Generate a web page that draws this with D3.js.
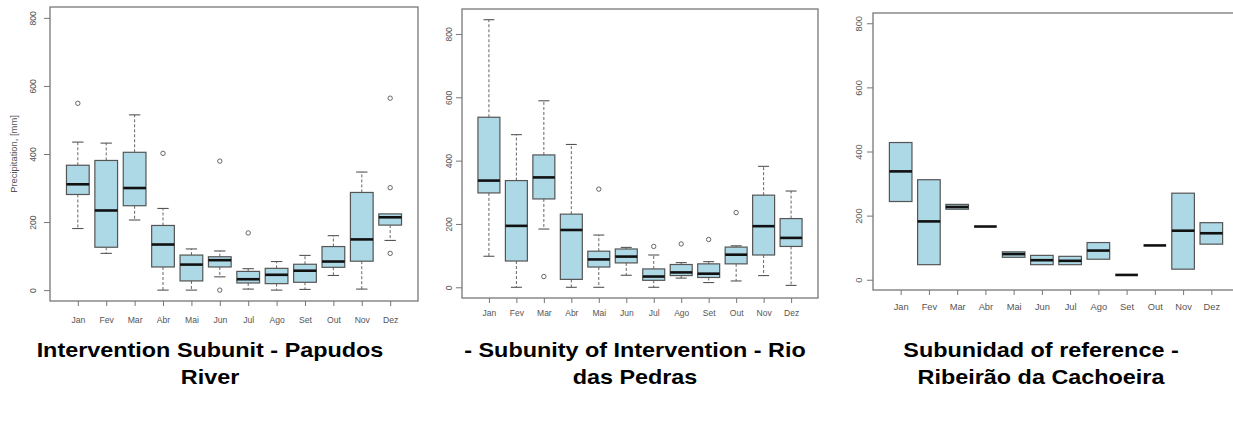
<!DOCTYPE html>
<html>
<head>
<meta charset="utf-8">
<script src="https://cdn.jsdelivr.net/npm/d3@7"></script>
<style>
  body { margin: 0; background: #fff; }
  svg { display: block; font-family: "Liberation Sans", Arial, sans-serif; }
</style>
</head>
<body>
<svg id="chart" width="1233" height="427"></svg>
<script>
// Month labels and y-axis ticks shared by the three boxplots
const months = ["Jan", "Fev", "Mar", "Abr", "Mai", "Jun", "Jul", "Ago", "Set", "Out", "Nov", "Dez"];
const yTicks = [0, 200, 400, 600, 800];

// Papudos River – monthly precipitation statistics (mm)
const papudosLow  = [181, 108, 206,   0,   0,  39,   3,   0,   2,  43,   3, 146];
const papudosQ1   = [281, 126, 248,  68,  27,  68,  21,  19,  23,  67,  85, 191];
const papudosMed  = [311, 234, 300, 134,  75,  88,  32,  45,  57,  84, 149, 214];
const papudosQ3   = [367, 381, 405, 190, 103,  98,  55,  64,  76, 128, 287, 224];
const papudosHigh = [435, 432, 515, 240, 121, 115,  63,  84, 102, 160, 347, 224];
const papudosOut  = [[549], [], [], [402], [], [379, 0], [168], [], [], [], [], [564, 301, 108]];

// Rio das Pedras
const pedrasLow  = [ 98,   0, 184,   0,   0,  38,   0,  29,  15,  20,  37,   6];
const pedrasQ1   = [298,  83, 279,  25,  64,  77,  22,  37,  31,  74, 102, 129];
const pedrasMed  = [337, 194, 347, 181,  88,  97,  34,  47,  43, 103, 193, 156];
const pedrasQ3   = [537, 337, 418, 231, 114, 121,  58,  72,  74, 127, 291, 217];
const pedrasHigh = [845, 482, 589, 451, 165, 126, 102,  78,  81, 131, 382, 304];
const pedrasOut  = [[], [], [34], [], [310], [], [129], [137], [151], [236], [], []];

// Ribeirão da Cachoeira (short record: no whiskers beyond the box)
const cachoeiraLow  = [244,  47, 220, 166,  70,  47,  47,  64,  15, 107,  33, 111];
const cachoeiraQ1   = [244,  47, 220, 166,  70,  47,  47,  64,  15, 107,  33, 111];
const cachoeiraMed  = [338, 182, 227, 166,  80,  61,  59,  91,  15, 107, 153, 145];
const cachoeiraQ3   = [428, 312, 235, 166,  87,  76,  73, 116,  15, 107, 270, 178];
const cachoeiraHigh = [428, 312, 235, 166,  87,  76,  73, 116,  15, 107, 270, 178];
const cachoeiraOut  = [[], [], [], [], [], [], [], [], [], [], [], []];

const titlePapudos   = ["Intervention Subunit - Papudos", "River"];
const titlePedras    = ["- Subunity of Intervention - Rio", "das Pedras"];
const titleCachoeira = ["Subunidad of reference -", "Ribeirão da Cachoeira"];

function build(low, q1, med, q3, high, out) {
  return months.map((m, i) => ({ i: i + 1, m, low: low[i], q1: q1[i], med: med[i], q3: q3[i], high: high[i], out: out[i] }));
}

// Panel layout (frame in pixels, label placement, font sizes)
const panels = [
  { data: build(papudosLow, papudosQ1, papudosMed, papudosQ3, papudosHigh, papudosOut),
    title: titlePapudos, titleX: 210,
    frame: { x0: 50, x1: 418, y0: 7, y1: 301 }, ylim: [0, 800],
    tickFont: 8.6, yLabOff: 17, xLabY: 320, yTitle: "Precipitation, [mm]" },
  { data: build(pedrasLow, pedrasQ1, pedrasMed, pedrasQ3, pedrasHigh, pedrasOut),
    title: titlePedras, titleX: 635,
    frame: { x0: 462, x1: 818, y0: 9, y1: 298 }, ylim: null,
    tickFont: 8.5, yLabOff: 13.5, xLabY: 313 },
  { data: build(cachoeiraLow, cachoeiraQ1, cachoeiraMed, cachoeiraQ3, cachoeiraHigh, cachoeiraOut),
    title: titleCachoeira, titleX: 1041,
    frame: { x0: 873, x1: 1239, y0: 13, y1: 290 }, ylim: [0, 800],
    tickFont: 9.3, yLabOff: 14.5, xLabY: 306.5 }
];

const svg = d3.select("#chart");

panels.forEach(p => {
  const f = p.frame;
  const n = months.length;
  // x: boxes at 1..n, limits 0.5..n+0.5 padded by 4%
  const xr = [0.5 - 0.04 * n, n + 0.5 + 0.04 * n];
  const x = d3.scaleLinear().domain(xr).range([f.x0, f.x1]);

  let lim = p.ylim;
  if (!lim) {
    const all = p.data.flatMap(d => [d.low, d.high, ...d.out]);
    lim = d3.extent(all);
  }
  const pad = 0.04 * (lim[1] - lim[0]);
  const y = d3.scaleLinear().domain([lim[0] - pad, lim[1] + pad]).range([f.y1, f.y0]);

  const g = svg.append("g");
  const step = x(2) - x(1);
  const bw = 0.8 * step;

  // whiskers
  const wk = g.append("g").attr("stroke", "#666").attr("stroke-width", 1).attr("stroke-dasharray", "3,2");
  p.data.forEach(d => {
    if (d.high > d.q3) wk.append("line").attr("x1", x(d.i)).attr("x2", x(d.i)).attr("y1", y(d.q3)).attr("y2", y(d.high));
    if (d.low < d.q1) wk.append("line").attr("x1", x(d.i)).attr("x2", x(d.i)).attr("y1", y(d.q1)).attr("y2", y(d.low));
  });
  // staples
  const st = g.append("g").attr("stroke", "#555").attr("stroke-width", 1.1);
  p.data.forEach(d => {
    if (d.high > d.q3) st.append("line").attr("x1", x(d.i) - bw / 4).attr("x2", x(d.i) + bw / 4).attr("y1", y(d.high)).attr("y2", y(d.high));
    if (d.low < d.q1) st.append("line").attr("x1", x(d.i) - bw / 4).attr("x2", x(d.i) + bw / 4).attr("y1", y(d.low)).attr("y2", y(d.low));
  });

  // boxes
  g.append("g").selectAll("rect").data(p.data.filter(d => d.q3 > d.q1)).join("rect")
    .attr("x", d => x(d.i) - bw / 2).attr("width", bw)
    .attr("y", d => y(d.q3)).attr("height", d => y(d.q1) - y(d.q3))
    .attr("fill", "#add8e6").attr("stroke", "#555").attr("stroke-width", 1.2);

  // medians
  g.append("g").selectAll("line").data(p.data).join("line")
    .attr("x1", d => x(d.i) - bw / 2).attr("x2", d => x(d.i) + bw / 2)
    .attr("y1", d => y(d.med)).attr("y2", d => y(d.med))
    .attr("stroke", "#111").attr("stroke-width", 2.6);

  // outliers
  g.append("g").selectAll("circle")
    .data(p.data.flatMap(d => d.out.map(v => ({ i: d.i, v }))))
    .join("circle")
    .attr("cx", d => x(d.i)).attr("cy", d => y(d.v)).attr("r", 2.2)
    .attr("fill", "none").attr("stroke", "#666").attr("stroke-width", 1);

  // frame
  g.append("rect").attr("x", f.x0).attr("y", f.y0)
    .attr("width", f.x1 - f.x0).attr("height", f.y1 - f.y0)
    .attr("fill", "none").attr("stroke", "#777").attr("stroke-width", 1.3);

  // y axis
  const ya = g.append("g").attr("transform", `translate(${f.x0},0)`)
    .call(d3.axisLeft(y).tickValues(yTicks).tickSize(6).tickSizeOuter(0));
  ya.select(".domain").remove();
  ya.selectAll(".tick line").attr("stroke", "#777");
  ya.selectAll(".tick text")
    .attr("x", null).attr("dy", "0.36em")
    .attr("transform", `translate(${-p.yLabOff},0) rotate(-90)`)
    .attr("text-anchor", "middle")
    .attr("fill", "#555").attr("font-size", p.tickFont)
    .attr("font-family", "'Liberation Sans', Arial, sans-serif");

  // x axis
  const xa = g.append("g").attr("transform", `translate(0,${f.y1})`)
    .call(d3.axisBottom(x).tickValues(d3.range(1, n + 1)).tickFormat(i => months[i - 1]).tickSize(5).tickSizeOuter(0));
  xa.select(".domain").remove();
  xa.selectAll(".tick line").attr("stroke", "#777");
  xa.selectAll(".tick text")
    .attr("y", p.xLabY - f.y1).attr("dy", "0.35em")
    .attr("fill", "#555").attr("font-size", p.tickFont)
    .attr("font-family", "'Liberation Sans', Arial, sans-serif");

  if (p.yTitle) {
    g.append("text")
      .attr("transform", `translate(14,${(f.y0 + f.y1) / 2}) rotate(-90)`)
      .attr("text-anchor", "middle").attr("dy", "0.35em")
      .attr("fill", "#555").attr("font-size", 9.4)
      .text(p.yTitle);
  }

  // caption below the panel (wide bold lettering)
  const t = svg.append("text")
    .attr("transform", `translate(${p.titleX},0) scale(1.2,1)`)
    .attr("text-anchor", "middle")
    .attr("font-weight", "bold").attr("font-size", 19.5).attr("fill", "#000");
  p.title.forEach((line, k) => {
    t.append("tspan").attr("x", 0).attr("y", 357 + k * 27).text(line);
  });
});
</script>
</body>
</html>
